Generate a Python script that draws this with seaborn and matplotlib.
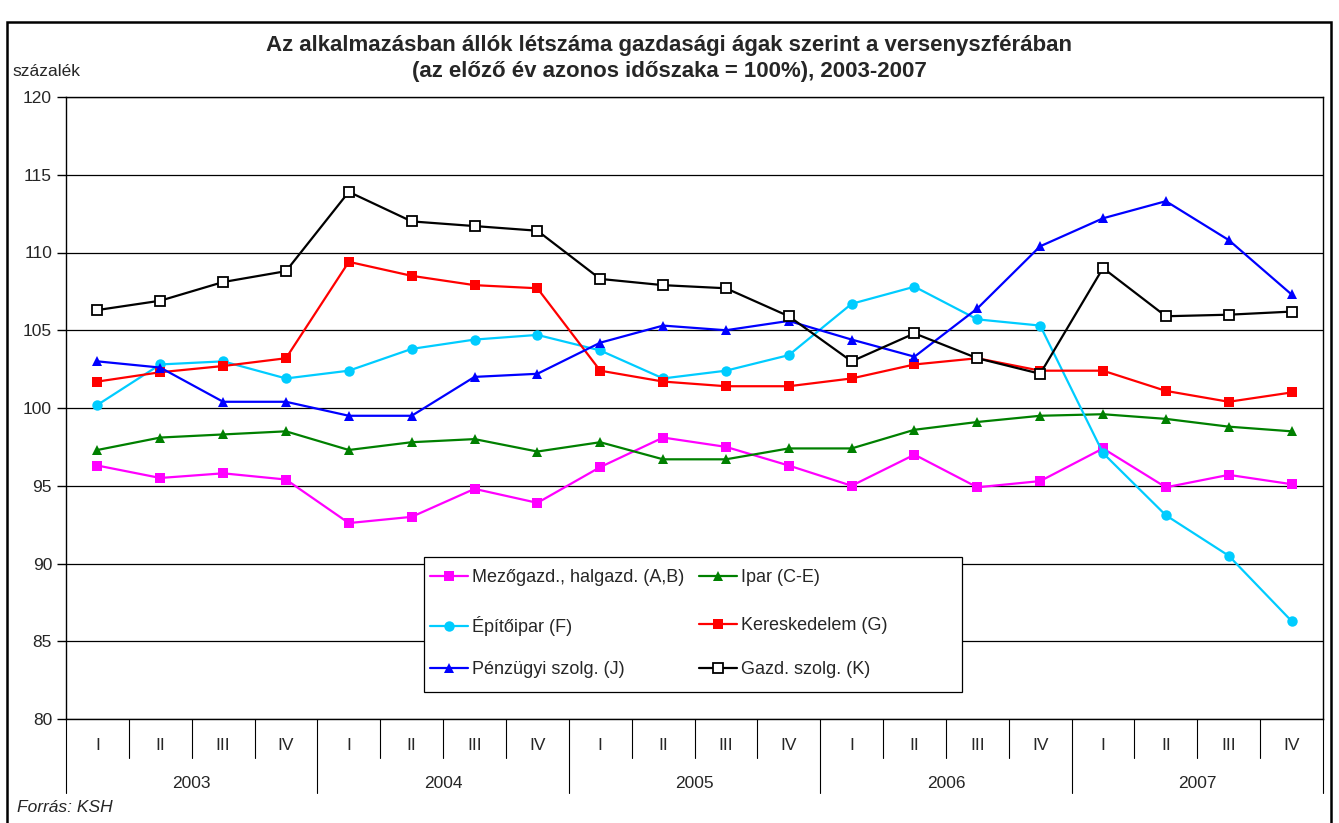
import numpy as np
import pandas as pd
import matplotlib
matplotlib.use('Agg')
import matplotlib.pyplot as plt
import seaborn as sns
from matplotlib.patches import Rectangle
from matplotlib.legend import Legend

# DATA
years = ['2003', '2004', '2005', '2006', '2007']
quarters = ['I', 'II', 'III', 'IV']

mezogazd = [96.3, 95.5, 95.8, 95.4, 92.6, 93.0, 94.8, 93.9, 96.2, 98.1,
            97.5, 96.3, 95.0, 97.0, 94.9, 95.3, 97.4, 94.9, 95.7, 95.1]
ipar = [97.3, 98.1, 98.3, 98.5, 97.3, 97.8, 98.0, 97.2, 97.8, 96.7,
        96.7, 97.4, 97.4, 98.6, 99.1, 99.5, 99.6, 99.3, 98.8, 98.5]
epitoipar = [100.2, 102.8, 103.0, 101.9, 102.4, 103.8, 104.4, 104.7, 103.7, 101.9,
             102.4, 103.4, 106.7, 107.8, 105.7, 105.3, 97.1, 93.1, 90.5, 86.3]
kereskedelem = [101.7, 102.3, 102.7, 103.2, 109.4, 108.5, 107.9, 107.7, 102.4, 101.7,
                101.4, 101.4, 101.9, 102.8, 103.2, 102.4, 102.4, 101.1, 100.4, 101.0]
penzugyi = [103.0, 102.6, 100.4, 100.4, 99.5, 99.5, 102.0, 102.2, 104.2, 105.3,
            105.0, 105.6, 104.4, 103.3, 106.4, 110.4, 112.2, 113.3, 110.8, 107.3]
gazd_szolg = [106.3, 106.9, 108.1, 108.8, 113.9, 112.0, 111.7, 111.4, 108.3, 107.9,
              107.7, 105.9, 103.0, 104.8, 103.2, 102.2, 109.0, 105.9, 106.0, 106.2]

series = [
    ('Mezőgazd., halgazd. (A,B)', mezogazd, '#FF00FF', 's', '#FF00FF'),
    ('Ipar (C-E)', ipar, '#008000', '^', '#008000'),
    ('Építőipar (F)', epitoipar, '#00CCFF', 'o', '#00CCFF'),
    ('Kereskedelem (G)', kereskedelem, '#FF0000', 's', '#FF0000'),
    ('Pénzügyi szolg. (J)', penzugyi, '#0000FF', '^', '#0000FF'),
    ('Gazd. szolg. (K)', gazd_szolg, '#000000', 's', 'white'),
]

sns.set_style('white')
plt.rcParams['font.family'] = ['Liberation Sans', 'DejaVu Sans']

W, H = 1339, 823
fig = plt.figure(figsize=(W / 100, H / 100), dpi=100)
ax = fig.add_axes([66 / W, 1 - 719 / H, (1323 - 66) / W, (719 - 97) / H])

# outer frame
fig.patches.append(Rectangle((7 / W, -0.01), (1331 - 7) / W, 1 - 22 / H + 0.01,
                             transform=fig.transFigure, fill=False, edgecolor='black', lw=1.8))

x = np.arange(20)
for name, vals, col, mk, mfc in series:
    sns.lineplot(x=x, y=vals, ax=ax, color=col, marker=mk, markersize=7.5,
                 markerfacecolor=mfc, markeredgecolor=col,
                 markeredgewidth=1.3 if mfc == 'white' else 0,
                 linewidth=1.6, label=name)

ax.set_xlim(-0.5, 19.5)
ax.set_ylim(80, 120)
ax.set_yticks(range(80, 121, 5))
ax.yaxis.grid(True, color='black', lw=0.9)
ax.set_axisbelow(True)
ax.set_xticks([])
ax.tick_params(axis='y', direction='out', length=6.5, width=1, color='black',
               labelsize=12.5, pad=3.5, left=True)
for s in ax.spines.values():
    s.set_color('black')
    s.set_linewidth(1)
ax.set_xlabel('')
ax.set_ylabel('')

# two level category axis
trans = ax.get_xaxis_transform()
for k in range(21):
    depth = -0.119 if k % 4 == 0 else -0.063
    ax.plot([k - 0.5, k - 0.5], [0, depth], color='black', lw=0.8, transform=trans, clip_on=False)
for i in range(20):
    ax.text(i, -(745 - 719) / 622, quarters[i % 4], transform=trans, ha='center', va='center', fontsize=12.5)
for j, yr in enumerate(years):
    ax.text(j * 4 + 1.5, -(783 - 719) / 622, yr, transform=trans, ha='center', va='center', fontsize=12.5)

# legend: 3 rows x 2 columns, each entry its own legend so rows line up
handles, labels = ax.get_legend_handles_labels()
if ax.get_legend() is not None:
    ax.get_legend().remove()


def ax_x(px):
    return (px - 66) / 1257


def ax_y(py):
    return (719 - py) / 622


ax.add_patch(Rectangle((ax_x(424), ax_y(692)), (962 - 424) / 1257, (692 - 557) / 622,
                       transform=ax.transAxes, facecolor='white', edgecolor='black',
                       lw=0.9, zorder=4.5, clip_on=False))
row_y = [578, 626, 670]
col_x = [430, 699]
for i, (h, l) in enumerate(zip(handles, labels)):
    r, c = divmod(i, 2)
    lg = Legend(ax, [h], [l], loc='center left', bbox_to_anchor=(ax_x(col_x[c]), ax_y(row_y[r])),
                frameon=False, fontsize=13, handlelength=2.1, handletextpad=0.25,
                borderpad=0, borderaxespad=0)
    lg.set_zorder(6)
    ax.add_artist(lg)

fig.text(0.5, 1 - 45 / H, 'Az alkalmazásban állók létszáma gazdasági ágak szerint a versenyszférában',
         ha='center', va='center', fontsize=16, fontweight='bold')
fig.text(0.5, 1 - 72 / H, '(az előző év azonos időszaka = 100%), 2003-2007',
         ha='center', va='center', fontsize=16, fontweight='bold')
fig.text(12 / W, 1 - 72 / H, 'százalék', ha='left', va='center', fontsize=12.5)
fig.text(17 / W, 1 - 808 / H, 'Forrás: KSH', ha='left', va='center', fontsize=12.5, style='italic')

fig.savefig('out.png', dpi=100)
